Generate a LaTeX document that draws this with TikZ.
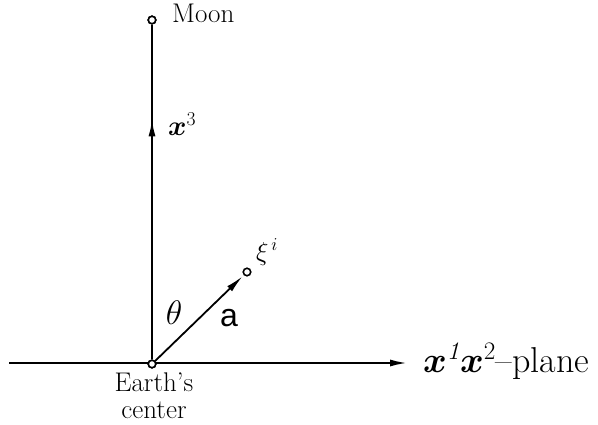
\documentclass[tikz,border=0pt]{standalone}
\usepackage{fix-cm}
\usepackage{amsmath,amssymb,bm}
\usepackage{fontspec}
\usetikzlibrary{arrows.meta,decorations.markings}
\newfontfamily\sansa{Liberation Sans}
\begin{document}
\begin{tikzpicture}[x=1pt,y=-1pt,
  pt/.style={circle,draw,fill=white,line width=1.6pt,inner sep=0pt,minimum size=7.5pt},
  axis/.style={line width=2.4pt},
  bigtip/.style={-{Latex[length=18pt,width=7pt]}},
  lbl/.style={inner sep=0pt,font=\fontsize{27}{27}\selectfont}]
\useasboundingbox (0,0) rectangle (598,425);
\coordinate (L) at (9,363);
\coordinate (R) at (408,363);
\draw[axis,bigtip] (L) -- (R);
\node[pt] (E) at (152,364) {};
\node[pt] (M) at (152,20) {};
\node[pt] (X) at (247,272) {};
\draw[axis,postaction={decorate},decoration={markings,mark=at position 0.72 with {\arrow{Latex[length=18pt,width=7pt]}}}] (E) -- (M);
\draw[line width=1.8pt,bigtip,shorten >=1.5pt] (E) -- (X);
\node[pt] at (E) {};
\node[pt] at (M) {};
\node[lbl,anchor=base west] (moonl) at (172,23) {Moon};
\node[inner sep=0pt,anchor=west,font=\fontsize{28}{28}\selectfont] (x3) at (168,124) {$\bm{x}^{3}$};
\node[inner sep=0pt,font=\fontsize{26}{26}\selectfont] (xil) at (267,252) {$\xi^{\,i}$};
\node[inner sep=0pt,font=\fontsize{34}{34}\selectfont] (th) at (174,313) {$\theta$};
\node[inner sep=0pt,font=\sansa\fontsize{32}{32}\selectfont] (al) at (229,318) {a};
\node[inner sep=0pt,anchor=base west,font=\fontsize{36}{36}\selectfont] (pl) at (423,373) {$\bm{x}^{\mathit{1}}\bm{x}^{2}$--plane};
\node[lbl,anchor=base] (ec1) at (154,391) {Earth's};
\node[lbl,anchor=base] (ec2) at (154,418) {center};
\end{tikzpicture}
\end{document}
